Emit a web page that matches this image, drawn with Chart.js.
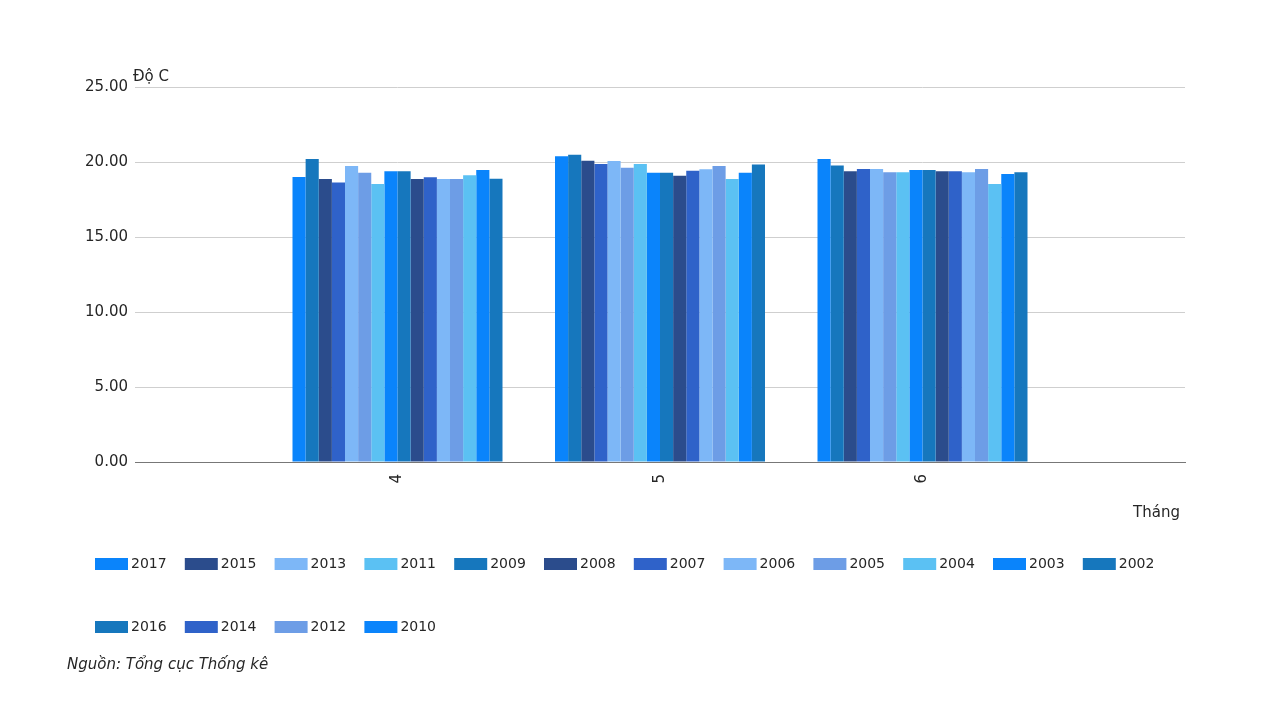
<!DOCTYPE html>
<html>
<head>
<meta charset="utf-8">
<script src="https://cdn.jsdelivr.net/npm/chart.js@4/dist/chart.umd.min.js"></script>
<style>
html,body{margin:0;padding:0;background:#fff;}
canvas{display:block;}
</style>
</head>
<body>
<canvas id="c" width="1280" height="720"></canvas>
<script>
// Categories (empty padding categories at both ends)
const months = ['', '4', '5', '6', ''];
// Years in bar order within each group
const years = ['2017','2016','2015','2014','2013','2012','2011','2010','2009','2008','2007','2006','2005','2004','2003','2002'];
// Temperature values (°C) per month, in the order of `years`
const month4 = [19.00, 20.20, 18.87, 18.64, 19.73, 19.29, 18.53, 19.38, 19.38, 18.87, 18.98, 18.87, 18.87, 19.11, 19.47, 18.89];
const month5 = [20.38, 20.49, 20.09, 19.87, 20.07, 19.62, 19.87, 19.29, 19.29, 19.09, 19.42, 19.51, 19.73, 18.87, 19.29, 19.84];
const month6 = [20.20, 19.76, 19.38, 19.53, 19.53, 19.31, 19.31, 19.47, 19.47, 19.38, 19.38, 19.31, 19.53, 18.53, 19.20, 19.31];
// Legend order as shown in the reference
const legendOrder = ['2017','2015','2013','2011','2009','2008','2007','2006','2005','2004','2003','2002','2016','2014','2012','2010'];
const yTicks = [0, 5, 10, 15, 20, 25];

const palette = ['#0a84fb', '#1677bd', '#2b4c8c', '#2f62c9', '#7db7f7', '#6d9de6', '#5bc1f3'];

const datasets = years.map((y, i) => ({
  label: y,
  data: [null, month4[i], month5[i], month6[i], null],
  backgroundColor: palette[i % palette.length],
  borderWidth: 0,
  categoryPercentage: 0.8,
  barPercentage: 1.0
}));

const FONT = '"DejaVu Sans", Verdana, sans-serif';
const TXT = '#262626';

const decor = {
  id: 'decor',
  afterDraw(chart) {
    const ctx = chart.ctx;
    const ca = chart.chartArea;
    ctx.save();
    ctx.fillStyle = TXT;
    // Y axis title
    ctx.font = '15px ' + FONT;
    ctx.textAlign = 'left';
    ctx.textBaseline = 'alphabetic';
    ctx.fillText('Độ C', ca.left - 2, ca.top - 6);
    // X axis title
    ctx.textAlign = 'right';
    ctx.fillText('Tháng', ca.right - 5, ca.bottom + 55);
    // Legend
    ctx.font = '14px ' + FONT;
    ctx.textAlign = 'left';
    ctx.textBaseline = 'middle';
    legendOrder.forEach((yr, i) => {
      const row = i < 12 ? 0 : 1;
      const col = i < 12 ? i : i - 12;
      const x = 95 + col * 89.8;
      const y = row === 0 ? 564 : 627;
      const ds = chart.data.datasets[years.indexOf(yr)];
      ctx.fillStyle = ds.backgroundColor;
      ctx.fillRect(x, y - 6, 33, 12);
      ctx.fillStyle = TXT;
      ctx.fillText(yr, x + 36, y);
    });
    // Source
    ctx.font = 'italic 15px ' + FONT;
    ctx.fillStyle = TXT;
    ctx.textBaseline = 'alphabetic';
    ctx.fillText('Nguồn: Tổng cục Thống kê', 67, 669);
    ctx.restore();
  }
};

new Chart(document.getElementById('c'), {
  type: 'bar',
  data: { labels: months, datasets },
  options: {
    responsive: false,
    animation: false,
    layout: { padding: { left: 0, right: 95, top: 87, bottom: 0 } },
    plugins: { legend: { display: false }, tooltip: { enabled: false } },
    scales: {
      x: {
        offset: false,
        grid: { display: false, drawTicks: false },
        border: { display: true, color: '#777', width: 1 },
        ticks: {
          color: TXT,
          font: { family: FONT, size: 15 },
          minRotation: 90,
          maxRotation: 90,
          padding: 12,
          autoSkip: false
        },
        afterFit(scale) { scale.height = 258; }
      },
      y: {
        min: 0,
        max: 25,
        afterBuildTicks(scale) { scale.ticks = yTicks.map(v => ({ value: v })); },
        grid: {
          drawTicks: false,
          color: (c) => c.tick && c.tick.value === 0 ? '#777' : '#cfcfcf',
          lineWidth: 1
        },
        border: { display: false },
        ticks: {
          color: TXT,
          font: { family: FONT, size: 15 },
          padding: 7,
          callback: (v) => Number(v).toFixed(2)
        },
        afterFit(scale) { scale.width = 135; }
      }
    }
  },
  plugins: [decor]
});
</script>
</body>
</html>
